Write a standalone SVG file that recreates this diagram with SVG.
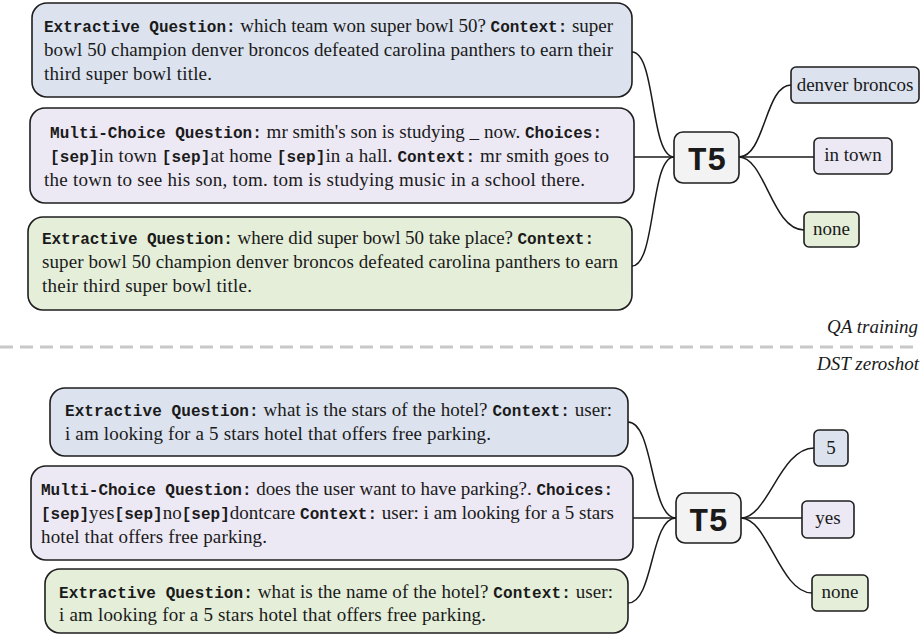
<svg xmlns="http://www.w3.org/2000/svg" width="920" height="635" viewBox="0 0 920 635">
<style>
.box{stroke:#1e1e1e;stroke-width:1.6}
.blue{fill:#dce3ef}.purple{fill:#ece8f4}.green{fill:#e4eed9}.gray{fill:#f3f3f3}
.t{font-family:"Liberation Serif",serif;font-size:19px;fill:#1a1a1a}
.m{font-family:"Liberation Mono",monospace;font-weight:bold;font-size:16px}
.big{font-family:"Liberation Mono",monospace;font-weight:bold;font-size:34px;fill:#1a1a1a}
.it{font-family:"Liberation Serif",serif;font-style:italic;font-size:19px;fill:#1a1a1a}
.conn{fill:none;stroke:#1a1a1a;stroke-width:1.5}
</style>
<line x1="0" y1="347" x2="914" y2="347" stroke="#c8c8c8" stroke-width="3" stroke-dasharray="13 7"/>
<text class="it" x="918" y="333" text-anchor="end">QA training</text>
<text class="it" x="919" y="370" text-anchor="end">DST zeroshot</text>
<g id="connectors">
<path class="conn" d="M632,52 C656,52 650,157 674,157"/>
<path class="conn" d="M634,157 L674,157"/>
<path class="conn" d="M632,266 C656,266 650,157 674,157"/>
<path class="conn" d="M739,157 C765,157 765,85 791,85"/>
<path class="conn" d="M739,157 L814,157"/>
<path class="conn" d="M739,157 C765,157 772,230 804,230"/>
<path class="conn" d="M628,422 C654,422 650,518 676,518"/>
<path class="conn" d="M633,518 L676,518"/>
<path class="conn" d="M628,603 C654,603 650,518 676,518"/>
<path class="conn" d="M741,518 C768,518 780,448 814,448"/>
<path class="conn" d="M741,518 L802,518"/>
<path class="conn" d="M741,518 C768,518 780,593 812,593"/>
</g>
<g id="qa-extractive-1">
<rect class="box blue" x="32" y="3" width="600" height="94" rx="15"/>
<text class="t" x="44" y="32" textLength="569" lengthAdjust="spacing"><tspan class="m">Extractive Question:</tspan> which team won super bowl 50? <tspan class="m">Context:</tspan> super</text>
<text class="t" x="44" y="56" textLength="569" lengthAdjust="spacing">bowl 50 champion denver broncos defeated carolina panthers to earn their</text>
<text class="t" x="44" y="80" textLength="168" lengthAdjust="spacing">third super bowl title.</text>
</g>
<g id="qa-multichoice">
<rect class="box purple" x="30" y="108" width="604" height="95" rx="15"/>
<text class="t" x="50" y="138" textLength="552" lengthAdjust="spacing"><tspan class="m">Multi-Choice Question:</tspan> mr smith's son is studying _ now. <tspan class="m">Choices:</tspan></text>
<text class="t" x="50" y="162" textLength="559" lengthAdjust="spacing"><tspan class="m">[sep]</tspan>in town <tspan class="m">[sep]</tspan>at home <tspan class="m">[sep]</tspan>in a hall. <tspan class="m">Context:</tspan> mr smith goes to</text>
<text class="t" x="44" y="186" textLength="541" lengthAdjust="spacing">the town to see his son, tom. tom is studying music in a school there.</text>
</g>
<g id="qa-extractive-2">
<rect class="box green" x="28" y="217" width="604" height="93" rx="15"/>
<text class="t" x="42" y="244" textLength="552" lengthAdjust="spacing"><tspan class="m">Extractive Question:</tspan> where did super bowl 50 take place? <tspan class="m">Context:</tspan></text>
<text class="t" x="42" y="268" textLength="576" lengthAdjust="spacing">super bowl 50 champion denver broncos defeated carolina panthers to earn</text>
<text class="t" x="42" y="292" textLength="210" lengthAdjust="spacing">their third super bowl title.</text>
</g>
<g id="t5-top">
<rect class="box gray" x="674" y="132" width="65" height="51" rx="9"/>
<text class="big" x="707" y="170" text-anchor="middle" textLength="39" lengthAdjust="spacingAndGlyphs">T5</text>
</g>
<g id="ans-denver">
<rect class="box blue" x="791" y="67" width="128" height="36" rx="5"/>
<text class="t" x="855" y="91" text-anchor="middle">denver broncos</text>
</g>
<g id="ans-intown">
<rect class="box purple" x="814" y="138" width="78" height="36" rx="5"/>
<text class="t" x="853" y="161" text-anchor="middle">in town</text>
</g>
<g id="ans-none-top">
<rect class="box green" x="804" y="212" width="55" height="35" rx="5"/>
<text class="t" x="831.5" y="235" text-anchor="middle">none</text>
</g>
<g id="dst-extractive-1">
<rect class="box blue" x="50" y="388" width="578" height="68" rx="15"/>
<text class="t" x="65" y="416" textLength="547" lengthAdjust="spacing"><tspan class="m">Extractive Question:</tspan> what is the stars of the hotel? <tspan class="m">Context:</tspan> user:</text>
<text class="t" x="65" y="440" textLength="426" lengthAdjust="spacing">i am looking for a 5 stars hotel that offers free parking.</text>
</g>
<g id="dst-multichoice">
<rect class="box purple" x="31" y="466" width="602" height="94" rx="15"/>
<text class="t" x="41" y="495" textLength="572" lengthAdjust="spacing"><tspan class="m">Multi-Choice Question:</tspan> does the user want to have parking?. <tspan class="m">Choices:</tspan></text>
<text class="t" x="41" y="519" textLength="573" lengthAdjust="spacing"><tspan class="m">[sep]</tspan>yes<tspan class="m">[sep]</tspan>no<tspan class="m">[sep]</tspan>dontcare <tspan class="m">Context:</tspan> user: i am looking for a 5 stars</text>
<text class="t" x="41" y="543" textLength="226" lengthAdjust="spacing">hotel that offers free parking.</text>
</g>
<g id="dst-extractive-2">
<rect class="box green" x="45" y="569" width="583" height="64" rx="15"/>
<text class="t" x="59" y="598" textLength="554" lengthAdjust="spacing"><tspan class="m">Extractive Question:</tspan> what is the name of the hotel? <tspan class="m">Context:</tspan> user:</text>
<text class="t" x="59" y="621" textLength="427" lengthAdjust="spacing">i am looking for a 5 stars hotel that offers free parking.</text>
</g>
<g id="t5-bottom">
<rect class="box gray" x="676" y="493" width="65" height="50" rx="9"/>
<text class="big" x="708.5" y="531" text-anchor="middle" textLength="39" lengthAdjust="spacingAndGlyphs">T5</text>
</g>
<g id="ans-5">
<rect class="box blue" x="814" y="430" width="34" height="36" rx="5"/>
<text class="t" x="831" y="454" text-anchor="middle">5</text>
</g>
<g id="ans-yes">
<rect class="box purple" x="802" y="501" width="52" height="37" rx="5"/>
<text class="t" x="828" y="524" text-anchor="middle">yes</text>
</g>
<g id="ans-none-bottom">
<rect class="box green" x="812" y="575" width="56" height="36" rx="5"/>
<text class="t" x="840" y="598" text-anchor="middle">none</text>
</g>
</svg>
